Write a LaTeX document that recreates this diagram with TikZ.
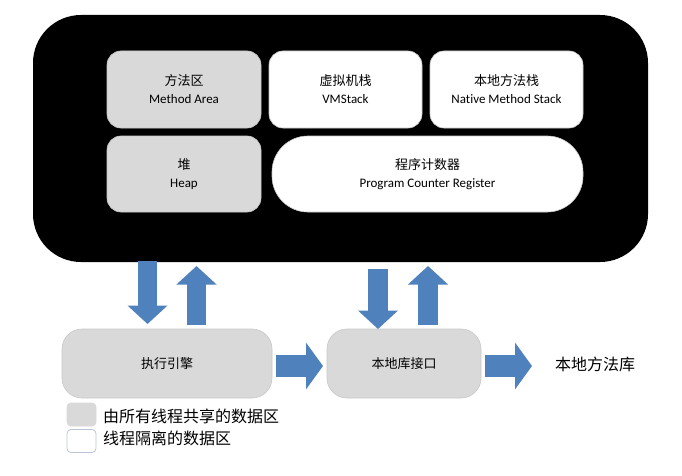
\documentclass[tikz,border=0pt]{standalone}
\usepackage{fontspec}
\setmainfont{Carlito}[Ligatures=NoCommon]
\newfontfamily\cjk{Noto Sans CJK SC}
\usetikzlibrary{arrows.meta}
\definecolor{boxgray}{HTML}{D9D9D9}
\definecolor{arrowblue}{HTML}{4F81BD}
\definecolor{edgegray}{HTML}{C8C8C8}
\definecolor{edgeblue}{HTML}{B9C6D8}
\tikzset{
  area/.style={draw=edgegray, line width=0.6pt, rounded corners=14pt, align=center,
    font=\fontsize{13}{18}\selectfont, inner sep=0pt},
  shared/.style={area, fill=boxgray},
  private/.style={area, fill=white},
  engine/.style={draw=edgegray, line width=0.6pt, fill=boxgray, rounded corners=20pt,
    font=\fontsize{13}{16}\selectfont\cjk, inner sep=0pt},
  vbarrow/.style={arrowblue, line width=19.5pt, -{Triangle[width=39pt,length=18.5pt]}},
  hbarrow/.style={arrowblue, line width=22pt, -{Triangle[width=46pt,length=17pt]}},
  legendbox/.style={rounded corners=4pt, minimum width=29pt, minimum height=23pt, inner sep=0pt, line width=0.8pt},
  legendtext/.style={anchor=west, font=\fontsize{16}{18}\selectfont\cjk, inner sep=0pt},
}
\begin{document}
\begin{tikzpicture}[x=1pt,y=-1pt]
\useasboundingbox[fill=white] (0,0) rectangle (682,476);
% JVM runtime area
\node[fill=black, rounded corners=48pt, minimum width=615pt, minimum height=247pt, inner sep=0pt] (jvm) at (340.5,138.5) {};
\node[shared, minimum width=154pt, minimum height=77pt] (method) at (184,89.5) {{\cjk 方法区}\\Method Area};
\node[private, minimum width=153pt, minimum height=77pt] (vmstack) at (345.5,89.5) {{\cjk 虚拟机栈}\\VMStack};
\node[private, minimum width=153pt, minimum height=77pt] (native) at (506.5,89.5) {{\cjk 本地方法栈}\\Native Method Stack};
\node[shared, minimum width=154pt, minimum height=76pt] (heap) at (184,174) {{\cjk 堆}\\Heap};
\node[private, rounded corners=36pt, minimum width=311pt, minimum height=76pt] (pc) at (427.5,174) {{\cjk 程序计数器}\\Program Counter Register};
% lower components
\node[engine, minimum width=210pt, minimum height=69pt] (exec) at (167,363.5) {执行引擎};
\node[engine, minimum width=154pt, minimum height=69pt] (jni) at (404,363.5) {本地库接口};
\node[anchor=west, inner sep=0pt, font=\fontsize{16}{18}\selectfont\cjk] (lib) at (555,364) {本地方法库};
% block arrows
\coordinate (d1s) at (147.5,261);
\coordinate (d1e) at (147.5,324);
\coordinate (u1s) at (196.5,325);
\coordinate (u1e) at (196.5,266);
\coordinate (d2s) at (378,269);
\coordinate (d2e) at (378,329);
\coordinate (u2s) at (428,325);
\coordinate (u2e) at (428,266);
\draw[vbarrow] (d1s) -- (d1e);
\draw[vbarrow] (u1s) -- (u1e);
\draw[vbarrow] (d2s) -- (d2e);
\draw[vbarrow] (u2s) -- (u2e);
\draw[hbarrow] (exec.east) ++(4,2.5) coordinate (r1s) -- (323,366) coordinate (r1e);
\draw[hbarrow] (jni.east) ++(4,2.5) coordinate (r2s) -- (532,366) coordinate (r2e);
% legend
\node[legendbox, fill=boxgray, draw=boxgray] (lg1) at (81.5,414.5) {};
\node[legendbox, fill=white, draw=edgeblue] (lg2) at (81.5,441) {};
\node[legendtext] (lt1) at (103,416) {由所有线程共享的数据区};
\node[legendtext] (lt2) at (103,438) {线程隔离的数据区};
\end{tikzpicture}
\end{document}
